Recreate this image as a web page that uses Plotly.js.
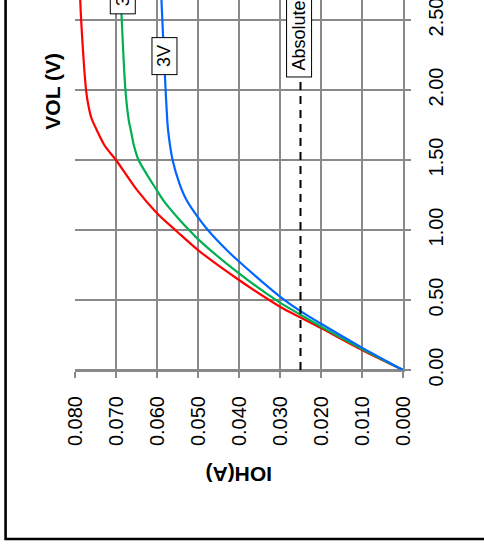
<!DOCTYPE html>
<html>
<head>
<meta charset="utf-8">
<script src="https://cdn.plot.ly/plotly-3.0.1.min.js"></script>
<style>
html,body{margin:0;padding:0;background:#fff;}
#chart{width:484px;height:551px;}
</style>
</head>
<body>
<div id="chart"></div>
<script>
// Series: VOL (V) vs IOH (A)
const ioh36 = [0, 0.010, 0.020, 0.025, 0.030, 0.040, 0.050, 0.055, 0.060, 0.065, 0.0700, 0.0727, 0.0747, 0.0760, 0.0768, 0.0773, 0.0785, 0.0788];
const vol36 = [0, 0.143, 0.300, 0.375, 0.452, 0.643, 0.857, 0.986, 1.120, 1.290, 1.500, 1.600, 1.714, 1.800, 1.900, 2.000, 2.500, 2.700];

const ioh33 = [0, 0.010, 0.020, 0.025, 0.030, 0.040, 0.050, 0.052, 0.055, 0.0585, 0.0601, 0.0645, 0.0656, 0.0664, 0.0669, 0.0677, 0.0686, 0.0689];
const vol33 = [0, 0.150, 0.310, 0.395, 0.481, 0.690, 0.935, 0.995, 1.090, 1.214, 1.286, 1.500, 1.600, 1.714, 1.786, 2.000, 2.500, 2.700];

const ioh30 = [0, 0.010, 0.020, 0.025, 0.030, 0.040, 0.0430, 0.0476, 0.0500, 0.0528, 0.0545, 0.0562, 0.0573, 0.0575, 0.0579, 0.0587, 0.0590];
const vol30 = [0, 0.160, 0.330, 0.420, 0.524, 0.775, 0.857, 1.000, 1.090, 1.214, 1.330, 1.500, 1.714, 1.786, 2.000, 2.500, 2.700];

const limitIoh = [0.025, 0.025];
const limitVol = [0, 2.088];

const xTickVals = [0, 0.01, 0.02, 0.03, 0.04, 0.05, 0.06, 0.07, 0.08];
const yTickVals = [0, 0.5, 1.0, 1.5, 2.0, 2.5];

const labels = ["3.3V", "3V", "Absolute Maximum Rating"];
const labelIoh = [0.0684, 0.0581, 0.0253];
const labelVol = [2.541, 2.105, 2.088];

const GRID = '#898989';
const FONT = 'Liberation Sans, Arial, sans-serif';

const traces = [
  {x: ioh36, y: vol36, mode: 'lines', line: {color: '#FF0000', width: 2.2, shape: 'spline', smoothing: 0.8}, name: '3.6V'},
  {x: ioh33, y: vol33, mode: 'lines', line: {color: '#00B050', width: 2.2, shape: 'spline', smoothing: 0.8}, name: '3.3V'},
  {x: ioh30, y: vol30, mode: 'lines', line: {color: '#0066FF', width: 2.2, shape: 'spline', smoothing: 0.8}, name: '3V'},
  {x: limitIoh, y: limitVol, mode: 'lines', line: {color: '#000000', width: 2, dash: '8px,6px'}, name: 'limit'}
];

// plot area in pixels: left 75.3, right 402.7, top 0, bottom 370
const L = 75.3, R = 402.7, T = 0, B = 370;
const px2x = p => (p - L) / (R - L);
const px2y = p => (B - p) / (B - T);

const annotations = labels.map((t, i) => ({
  x: labelIoh[i], y: labelVol[i], xref: 'x', yref: 'y',
  text: ' ' + t + ' ', showarrow: false, textangle: -90,
  xanchor: 'center', yanchor: 'bottom',
  font: {family: FONT, size: 18, color: '#000'},
  bgcolor: '#ffffff', bordercolor: '#000000', borderwidth: 1, borderpad: 2
}));
annotations.push({
  x: px2x(52), y: px2y(91), xref: 'paper', yref: 'paper', text: '<b>VOL (V)</b>',
  showarrow: false, textangle: -90, xanchor: 'center', yanchor: 'middle',
  font: {family: FONT, size: 21, color: '#000'}
});
annotations.push({
  x: px2x(238), y: px2y(475), xref: 'paper', yref: 'paper', text: '<b>IOH(A)</b>',
  showarrow: false, textangle: 180, xanchor: 'center', yanchor: 'middle',
  font: {family: FONT, size: 21, color: '#000'}
});

// horizontal grid lines (at the y tick values), drawn below the traces
const gridShapes = yTickVals.map(v => ({
  type: 'line', xref: 'paper', yref: 'y', x0: 0, x1: 1, y0: v, y1: v,
  line: {color: GRID, width: 2}, layer: 'below'
}));

const layout = {
  width: 484, height: 551,
  margin: {l: L, r: 484 - R, t: T, b: 551 - B, pad: 0},
  paper_bgcolor: '#ffffff', plot_bgcolor: '#ffffff',
  showlegend: false,
  font: {family: FONT, size: 20, color: '#000'},
  xaxis: {
    range: [0.08, 0], tickvals: xTickVals, tickformat: '.3f', tickangle: -90,
    showgrid: true, gridcolor: GRID, gridwidth: 2,
    showline: true, linecolor: GRID, linewidth: 2,
    ticks: 'outside', ticklen: 6, tickwidth: 2, tickcolor: GRID,
    ticklabelstandoff: 10,
    zeroline: false, tickfont: {family: FONT, size: 20, color: '#000'}
  },
  yaxis: {
    range: [0, 2.643], tickvals: yTickVals, tickformat: '.2f', tickangle: -90, side: 'right',
    showgrid: true, gridcolor: GRID, gridwidth: 2,
    showline: true, linecolor: GRID, linewidth: 2,
    ticks: 'outside', ticklen: 6, tickwidth: 2, tickcolor: GRID,
    ticklabelstandoff: 8, ticklabeloverflow: 'allow',
    zeroline: false, tickfont: {family: FONT, size: 20, color: '#000'}
  },
  annotations: annotations,
  shapes: gridShapes.concat([{
    type: 'path', xref: 'paper', yref: 'paper',
    path: `M ${px2x(6)} ${px2y(-20)} L ${px2x(6)} ${px2y(539)} L ${px2x(520)} ${px2y(539)}`,
    line: {color: '#000000', width: 2.6}
  }])
};

Plotly.newPlot('chart', traces, layout, {staticPlot: true, displayModeBar: false});
</script>
</body>
</html>
